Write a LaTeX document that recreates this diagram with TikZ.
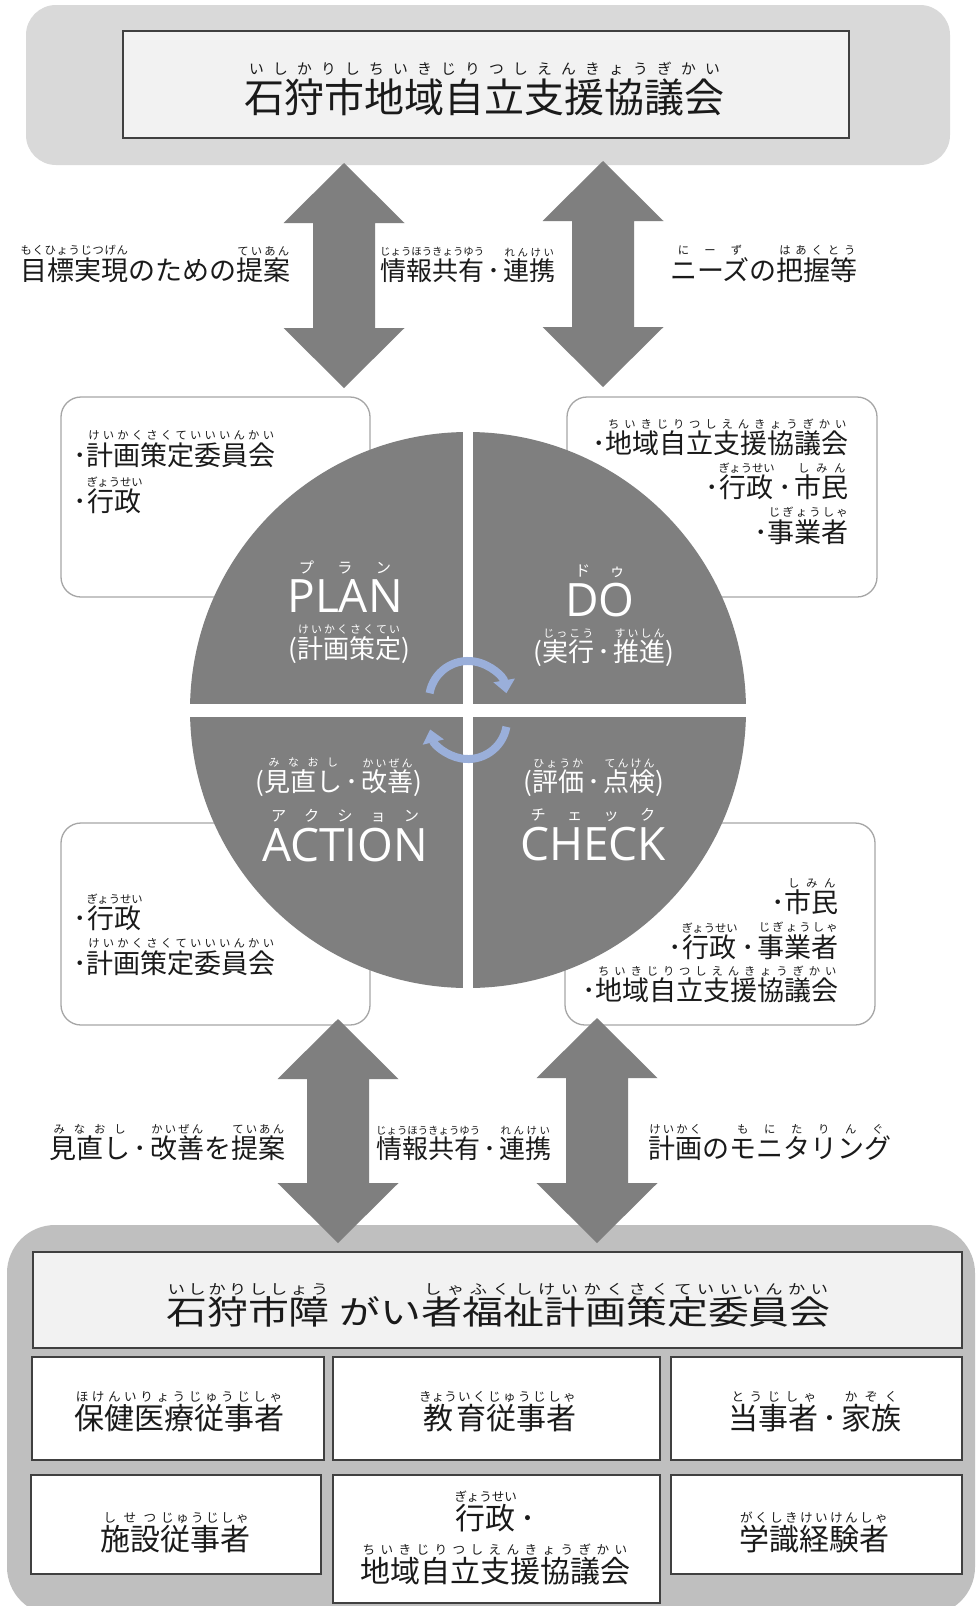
\documentclass[tikz,border=0pt]{standalone}
\usepackage{fontspec}
\setmainfont{Noto Sans CJK JP}
\newfontfamily\lat{Open Sans}
\usetikzlibrary{arrows.meta,calc}
\definecolor{topgray}{HTML}{D9D9D9}
\definecolor{botgray}{HTML}{BFBFBF}
\definecolor{boxfill}{HTML}{F2F2F2}
\definecolor{edge}{HTML}{404040}
\definecolor{midgray}{HTML}{7F7F7F}
\definecolor{softedge}{HTML}{A6A6A6}
\definecolor{cyc}{HTML}{9AAFDA}
\definecolor{ink}{HTML}{1A1A1A}
\makeatletter
\def\rbratio{.42}
\def\rbkern{1.5pt}
\newcommand\rbfont{\dimen@=\f@size pt\relax\dimen@=\rbratio\dimen@\edef\rb@sz{\strip@pt\dimen@}\fontsize{\rb@sz}{\rb@sz}\selectfont}
\def\rb@spr#1#2\@nil{#1\ifx\relax#2\relax\else\hskip0pt plus 1fil\relax\rb@spr#2\@nil\fi}
\newcommand\rb[2]{\leavevmode\begingroup
 \setbox0\hbox{#1}\setbox2\hbox{\rbfont #2}%
 \ifdim\wd2<\wd0
   \setbox2\hbox to\wd0{\rbfont\hskip0pt plus .5fil\relax\rb@spr#2\@nil\hskip0pt plus .5fil\relax}%
 \fi
 \ifdim\wd2>\wd0 \dimen@=\wd2 \else \dimen@=\wd0 \fi
 \vbox{\offinterlineskip\hbox to\dimen@{\hss\box2\hss}\kern\rbkern\hbox to\dimen@{\hss\box0\hss}}%
 \endgroup}
\makeatother
\newcommand\md{\kern.12em･\kern.12em}
\newcommand\blockarrow[2]{\fill[midgray] let \p1=(#1), \p2=(#2) in (\x1,\y1) -- (\x1+60.5pt,\y1-60pt) -- (\x1+31pt,\y1-60pt) -- (\x1+31pt,\y2+60pt) -- (\x1+60.5pt,\y2+60pt) -- (\x2,\y2) -- (\x1-60.5pt,\y2+60pt) -- (\x1-31pt,\y2+60pt) -- (\x1-31pt,\y1-60pt) -- (\x1-60.5pt,\y1-60pt) -- cycle;}
\tikzset{
 lbl/.style={inner sep=0pt, text=ink, font=\fontsize{27}{30}\selectfont},
 midlbl/.style={inner sep=0pt, text=ink, font={\fontsize{26}{30}\selectfont\def\rbratio{.40}}},
 gridtxt/.style={inner sep=0pt, text=ink, font=\fontsize{30}{33}\selectfont},
 quadsub/.style={inner sep=0pt, text=white, font=\fontsize{26}{30}\selectfont},
 quadword/.style={inner sep=0pt, text=white, font={\fontsize{46}{50}\selectfont\def\rbratio{.33}\def\rbkern{5pt}}},
 sidebox/.style={draw=softedge, line width=1.3pt, fill=white, rounded corners=20pt, inner sep=0pt},
 hardbox/.style={draw=edge, line width=1.5pt, inner sep=0pt},
 panel/.style={inner sep=0pt},
 cycarrow/.style={draw=cyc, line width=8pt, -{Triangle[width=21pt,length=13pt]}},
}
\begin{document}
\begin{tikzpicture}[x=1pt,y=-1pt]
\useasboundingbox (0,0) rectangle (977,1606);
\fill[white] (0,0) rectangle (977,1606);

% ---- top panel
\node[panel, fill=topgray, rounded corners=30pt, minimum width=924pt, minimum height=160pt] (toppanel) at (488,85) {};
\node[hardbox, fill=boxfill, minimum width=726pt, minimum height=107pt] (topbox) at (486,84.5) {};
\node[inner sep=0pt, text=ink, anchor=base, font={\fontsize{40}{44}\selectfont\def\rbratio{.37}\def\rbkern{3pt}}] (toptitle) at (484.5,112) {\rb{石狩市地域自立支援協議会}{いしかりしちいきじりつしえんきょうぎかい}};

% ---- top arrows
\coordinate (aTLt) at (344,163); \coordinate (aTLb) at (344,388);
\coordinate (aTRt) at (603,161); \coordinate (aTRb) at (603,387);
\blockarrow{aTLt}{aTLb}
\blockarrow{aTRt}{aTRb}

\node[lbl, anchor=base west] (ltop1) at (20,280) {\rb{目標実現}{もくひょうじつげん}のための\rb{提案}{ていあん}};
\node[midlbl, anchor=base west] (ltop2) at (380,280) {\rb{情報共有}{じょうほうきょうゆう}\md\rb{連携}{れんけい}};
\node[lbl, anchor=base west] (ltop3) at (670,280) {\rb{ニーズ}{にーず}の\rb{把握等}{はあくとう}};

% ---- side boxes
\node[sidebox, minimum width=309pt, minimum height=200pt] (boxUL) at (215.5,497) {};
\node[sidebox, minimum width=310pt, minimum height=200pt] (boxUR) at (722,497) {};
\node[sidebox, minimum width=309pt, minimum height=202pt] (boxLL) at (215.5,924) {};
\node[sidebox, minimum width=310pt, minimum height=202pt] (boxLR) at (720,924) {};

\node[lbl, anchor=base west] (ul1) at (73,465) {･\rb{計画策定委員会}{けいかくさくていいいんかい}};
\node[lbl, anchor=base west] (ul2) at (73,511) {･\rb{行政}{ぎょうせい}};
\node[lbl, anchor=base east] (ur1) at (849,453) {･\rb{地域自立支援協議会}{ちいきじりつしえんきょうぎかい}};
\node[lbl, anchor=base east] (ur2) at (849,497) {･\rb{行政}{ぎょうせい}\md\rb{市民}{しみん}};
\node[lbl, anchor=base east] (ur3) at (849,542) {･\rb{事業者}{じぎょうしゃ}};
\node[lbl, anchor=base west] (ll1) at (73,928) {･\rb{行政}{ぎょうせい}};
\node[lbl, anchor=base west] (ll2) at (73,973) {･\rb{計画策定委員会}{けいかくさくていいいんかい}};
\node[lbl, anchor=base east] (lr1) at (839,912) {･\rb{市民}{しみん}};
\node[lbl, anchor=base east] (lr2) at (839,957) {･\rb{行政}{ぎょうせい}\md\rb{事業者}{じぎょうしゃ}};
\node[lbl, anchor=base east] (lr3) at (839,1000) {･\rb{地域自立支援協議会}{ちいきじりつしえんきょうぎかい}};

% ---- PDCA circle
\node[circle, fill=midgray, minimum size=556pt, inner sep=0pt] (pdca) at (468,710) {};
\begin{scope}
 \clip (468,710) circle (279);
 \fill[white] (463,420) rectangle (473,1000);
 \fill[white] (180,704) rectangle (760,717);
\end{scope}
\draw[cycarrow] (429.6,693.2) arc[start angle=190, end angle=350, radius=39];
\draw[cycarrow] (506.4,726.8) arc[start angle=10, end angle=166, radius=39];

\node[quadword, anchor=base] (plan) at (345,612) {\rb{\lat PLAN}{プラン}};
\node[quadsub, anchor=base] (plansub) at (349,658) {(\rb{計画策定}{けいかくさくてい})};
\node[quadword, anchor=base] (do) at (600,616) {\rb{\lat DO}{ドゥ}};
\node[quadsub, anchor=base] (dosub) at (604,661) {(\rb{実行}{じっこう}\md\rb{推進}{すいしん})};
\node[quadsub, anchor=base] (actsub) at (339,791) {(\rb{見直し}{みなおし}\md\rb{改善}{かいぜん})};
\node[quadword, anchor=base] (action) at (345,861) {\rb{\lat ACTION}{アクション}};
\node[quadsub, anchor=base] (chksub) at (594,791) {(\rb{評価}{ひょうか}\md\rb{点検}{てんけん})};
\node[quadword, anchor=base] (check) at (593,860) {\rb{\lat CHECK}{チェック}};

% ---- bottom panel
\node[panel, fill=botgray, rounded corners=48pt, minimum width=968pt, minimum height=390pt] (botpanel) at (491,1420) {};

% ---- bottom arrows
\coordinate (aBLt) at (338,1019); \coordinate (aBLb) at (338,1243);
\coordinate (aBRt) at (597,1018); \coordinate (aBRb) at (597,1243);
\blockarrow{aBLt}{aBLb}
\blockarrow{aBRt}{aBRb}

\node[lbl, anchor=base west] (lbot1) at (49,1158) {\rb{見直し}{みなおし}\md\rb{改善}{かいぜん}を\rb{提案}{ていあん}};
\node[midlbl, anchor=base west] (lbot2) at (376,1158) {\rb{情報共有}{じょうほうきょうゆう}\md\rb{連携}{れんけい}};
\node[lbl, anchor=base west] (lbot3) at (648,1158) {\rb{計画}{けいかく}の\rb{モニタリング}{もにたりんぐ}};

\node[hardbox, fill=boxfill, minimum width=929pt, minimum height=96pt] (botbox) at (497.5,1300) {};
\node[inner sep=0pt, text=ink, anchor=base, font=\fontsize{33}{36}\selectfont] (bottitle) at (498.5,1324.5) {\scalebox{1.24}[1]{\rb{石狩市障}{いしかりししょう}\hspace{8pt}がい\rb{者福祉計画策定委員会}{しゃふくしけいかくさくていいいんかい}}};

\node[hardbox, fill=white, minimum width=292pt, minimum height=103pt] (g1) at (178,1408.5) {};
\node[hardbox, fill=white, minimum width=327pt, minimum height=103pt] (g2) at (496.5,1408.5) {};
\node[hardbox, fill=white, minimum width=291pt, minimum height=103pt] (g3) at (816.5,1408.5) {};
\node[hardbox, fill=white, minimum width=290pt, minimum height=99pt] (g4) at (176,1524.5) {};
\node[hardbox, fill=white, minimum width=327pt, minimum height=128pt] (g5) at (496.5,1539) {};
\node[hardbox, fill=white, minimum width=291pt, minimum height=99pt] (g6) at (816.5,1524.5) {};

\node[gridtxt, anchor=base] (t1) at (179,1429) {\rb{保健医療従事者}{ほけんいりょうじゅうじしゃ}};
\node[gridtxt, anchor=base] (t2) at (498,1429) {\rb{教}{きょう}\rb{育}{いく}\rb{従事者}{じゅうじしゃ}};
\node[gridtxt, anchor=base] (t3) at (815,1429) {\rb{当事者}{とうじしゃ}\md\rb{家族}{かぞく}};
\node[gridtxt, anchor=base] (t4) at (175,1550) {\rb{施設}{しせつ}\rb{従事者}{じゅうじしゃ}};
\node[gridtxt, anchor=base] (t5a) at (497,1529) {\rb{行政}{ぎょうせい}\md};
\node[gridtxt, anchor=base] (t5b) at (495,1582) {\rb{地域自立支援協議会}{ちいきじりつしえんきょうぎかい}};
\node[gridtxt, anchor=base] (t6) at (814,1550) {\rb{学識経験者}{がくしきけいけんしゃ}};
\end{tikzpicture}
\end{document}
